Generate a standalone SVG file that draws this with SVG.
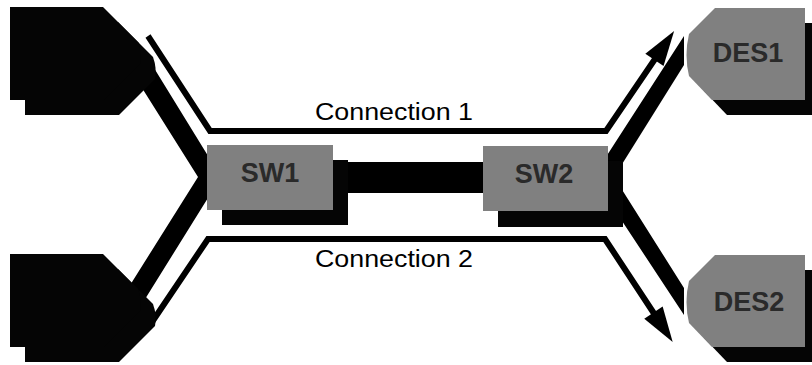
<svg xmlns="http://www.w3.org/2000/svg" width="812" height="365" viewBox="0 0 812 365">
  <style>
    .black { fill: #050505; }
    .grey { fill: #808080; }
    .thin { fill: none; stroke: #000; stroke-width: 6; stroke-linejoin: miter; stroke-linecap: butt; }
    .band { fill: #000; }
    .nlabel { font-family: "Liberation Sans", Arial, sans-serif; font-weight: bold; font-size: 27px; fill: #2a2a2a; text-anchor: middle; }
    .clabel { font-family: "Liberation Sans", Arial, sans-serif; font-size: 23px; fill: #000; }
  </style>
  <defs>
    <path id="srcShape" d="M0,0 H93 L128,35 Q132,46 130,57 L94,93 H0 Z"/>
    <path id="desShape" d="M30,0 H120 V92 H27 L4,68 Q-1,47 4,26 Z"/>
    <marker id="arrow" markerUnits="userSpaceOnUse" markerWidth="36" markerHeight="24" refX="1" refY="12" orient="auto" overflow="visible">
      <path d="M0,1 L35,12 L0,23 Z" fill="#000"/>
    </marker>
  </defs>

  <g id="connectors">
    <!-- thick link SW1 - SW2 -->
    <rect class="band" x="330" y="162" width="156" height="31"/>
    <!-- left chevron: sources to SW1 -->
    <polygon class="band" points="120,53 138,42 221,177 137,312 127,290 198,177"/>
    <!-- right chevron: SW2 to destinations -->
    <polygon class="band" points="593,177 684,36 684,65 614,177 684,288 684,315"/>
    <!-- Connection 1 -->
    <polyline class="thin" points="148,36 210,131 606,131 655,59" marker-end="url(#arrow)"/>
    <!-- Connection 2 -->
    <polyline class="thin" points="148,328 208,239 605,239 654,313.5" marker-end="url(#arrow)"/>
    <text class="clabel" x="315" y="120" textLength="158" lengthAdjust="spacingAndGlyphs">Connection 1</text>
    <text class="clabel" x="315" y="267" textLength="158" lengthAdjust="spacingAndGlyphs">Connection 2</text>
  </g>

  <g id="src1">
    <use href="#srcShape" class="black" transform="translate(25,22)"/>
    <use href="#srcShape" class="black" transform="translate(10,7)"/>
  </g>

  <g id="src2">
    <use href="#srcShape" class="black" transform="translate(25,269)"/>
    <use href="#srcShape" class="black" transform="translate(10,254)"/>
  </g>

  <g id="sw1">
    <rect class="black" x="222" y="160" width="126" height="65"/>
    <rect class="grey" x="207" y="145" width="126" height="65"/>
    <text class="nlabel" x="270" y="182">SW1</text>
  </g>

  <g id="sw2">
    <rect class="black" x="498" y="161" width="125" height="66"/>
    <rect class="grey" x="483" y="146" width="125" height="65"/>
    <text class="nlabel" x="544" y="183">SW2</text>
  </g>

  <g id="des1">
    <use href="#desShape" class="black" transform="translate(700,23)"/>
    <use href="#desShape" class="grey" transform="translate(685,8)"/>
    <text class="nlabel" x="748" y="62">DES1</text>
  </g>

  <g id="des2">
    <use href="#desShape" class="black" transform="translate(700,270)"/>
    <use href="#desShape" class="grey" transform="translate(685,255)"/>
    <text class="nlabel" x="749" y="311">DES2</text>
  </g>
</svg>
